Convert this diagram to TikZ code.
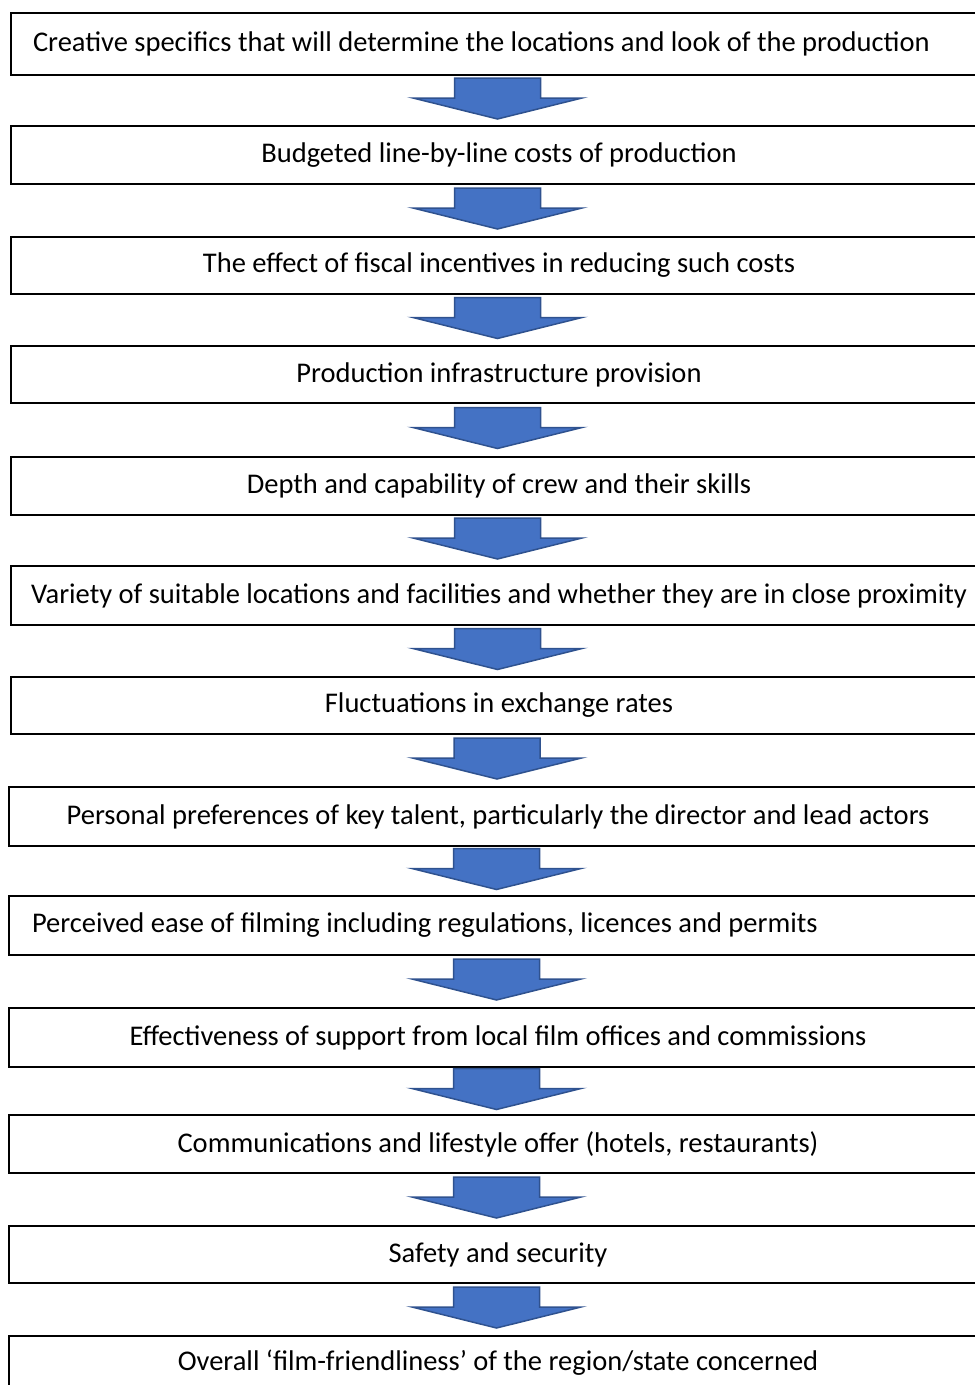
\documentclass[tikz,border=0pt]{standalone}
\usepackage{fontspec}
\setmainfont{Carlito}
\usetikzlibrary{calc}
\definecolor{arrfill}{HTML}{4472C4}
\definecolor{arrline}{HTML}{2F528F}
\tikzset{
  box/.style={draw=black, line width=2pt, rectangle, inner sep=0pt,
    minimum width=976pt, font=\fontsize{28.5}{33}\selectfont},
  blockarrow/.style={fill=arrfill, draw=arrline, line width=1.5pt, line join=miter}
}
\newcommand\lefttext[1]{\makebox[932pt][l]{#1}}
\newcommand\flowarrow[2]{%
  \path ($(#1.south)!0.5!(#2.north)+(-1.5,-2)$) coordinate (m#1);
  \draw[blockarrow] ($(m#1)+(-43,-20.5)$) -- ($(m#1)+(43,-20.5)$) -- ($(m#1)+(43,-0.5)$)
     -- ($(m#1)+(84.5,-0.5)$) -- ($(m#1)+(0,20.5)$) -- ($(m#1)+(-84.5,-0.5)$)
     -- ($(m#1)+(-43,-0.5)$) -- cycle;}
\begin{document}
\begin{tikzpicture}[x=1pt,y=-1pt]
\useasboundingbox (0,0) rectangle (975,1385);
\clip (0,0) rectangle (975,1385);
\node[box, minimum height=62pt] (b1) at (499,44) {\lefttext{Creative specifics that will determine the locations and look of the production}};
\node[box, minimum height=58pt] (b2) at (499,155) {Budgeted line-by-line costs of production};
\node[box, minimum height=57pt] (b3) at (499,265.5) {The effect of fiscal incentives in reducing such costs};
\node[box, minimum height=57pt] (b4) at (499,374.5) {Production infrastructure provision};
\node[box, minimum height=58pt] (b5) at (499,486) {Depth and capability of crew and their skills};
\node[box, minimum height=59pt] (b6) at (499,595.5) {Variety of suitable locations and facilities and whether they are in close proximity};
\node[box, minimum height=57pt] (b7) at (499,705.5) {Fluctuations in exchange rates};
\node[box, minimum width=978pt, minimum height=59pt] (b8) at (498,816.5) {Personal preferences of key talent, particularly the director and lead actors};
\node[box, minimum width=978pt, minimum height=59pt] (b9) at (498,925.5) {\lefttext{Perceived ease of filming including regulations, licences and permits}};
\node[box, minimum width=978pt, minimum height=59pt] (b10) at (498,1037.5) {Effectiveness of support from local film offices and commissions};
\node[box, minimum width=978pt, minimum height=58pt] (b11) at (498,1144) {Communications and lifestyle offer (hotels, restaurants)};
\node[box, minimum width=978pt, minimum height=57pt] (b12) at (498,1254.5) {Safety and security};
\node[box, minimum width=978pt, minimum height=62pt, text depth=0pt] (b13) at (498,1367) {\raisebox{14pt}{Overall ‘film-friendliness’ of the region/state concerned}};
\flowarrow{b1}{b2}
\flowarrow{b2}{b3}
\flowarrow{b3}{b4}
\flowarrow{b4}{b5}
\flowarrow{b5}{b6}
\flowarrow{b6}{b7}
\flowarrow{b7}{b8}
\flowarrow{b8}{b9}
\flowarrow{b9}{b10}
\flowarrow{b10}{b11}
\flowarrow{b11}{b12}
\flowarrow{b12}{b13}
\end{tikzpicture}
\end{document}
